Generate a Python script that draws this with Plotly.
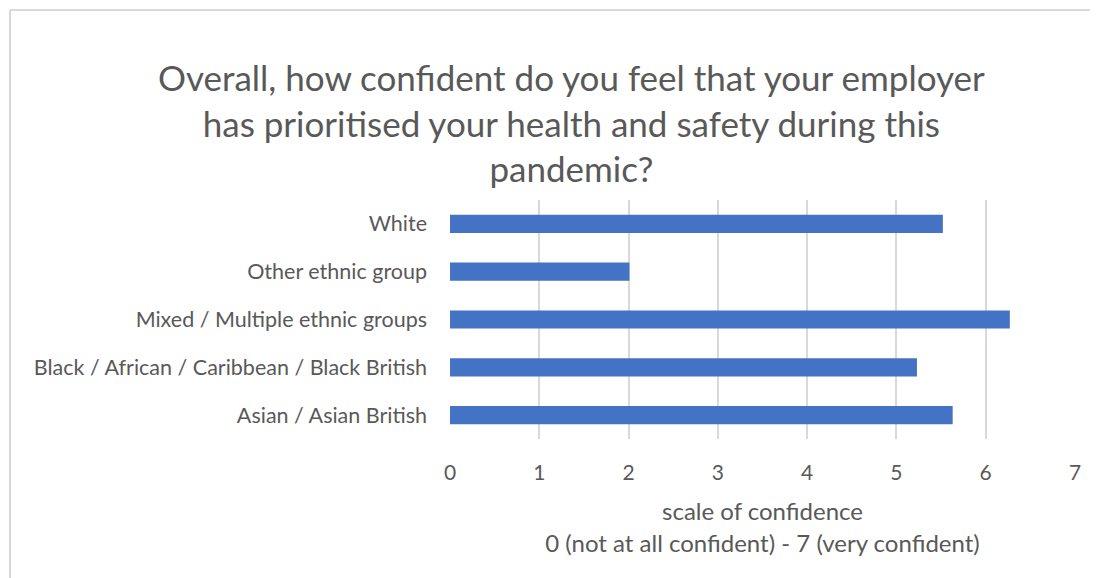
import plotly.graph_objects as go

categories = ["Asian / Asian British", "Black / African / Caribbean / Black British",
              "Mixed / Multiple ethnic groups", "Other ethnic group", "White"]
values = [5.63, 5.23, 6.27, 2.01, 5.52]
x_ticks = [0, 1, 2, 3, 4, 5, 6, 7]

title_text = ("Overall, how confident do you feel that your employer<br>"
              "has prioritised your health and safety during this<br>pandemic?")
axis_title = "scale of confidence<br>0 (not at all confident) - 7 (very confident)"

FONT = "Lato"
GRAY = "#595959"

W, H = 1100, 578
ML, MR, MT, MB = 450, 25, 200, 139
pw, ph = W - ML - MR, H - MT - MB

def px(x):
    return (x - ML) / pw

def py(y):
    return 1 + (MT - y) / ph

fig = go.Figure(go.Bar(
    x=values, y=categories, orientation="h",
    marker=dict(color="#4472C4", line=dict(width=0)),
    width=0.38,
))

fig.update_layout(
    width=W, height=H,
    margin=dict(l=ML, r=MR, t=MT, b=MB, pad=0),
    paper_bgcolor="white", plot_bgcolor="white",
    showlegend=False,
    font=dict(family=FONT, color=GRAY, size=21),
    xaxis=dict(range=[0, 7], tickvals=x_ticks, showgrid=True, gridcolor="#d9d9d9",
               gridwidth=1.5, zeroline=False, showline=False, ticks="",
               tickfont=dict(size=21, color=GRAY), ticklabelstandoff=19,
               title=dict(text=axis_title, font=dict(size=24, color=GRAY), standoff=20)),
    yaxis=dict(showgrid=False, zeroline=False, showline=False, ticks="",
               tickfont=dict(size=21.5, color=GRAY), ticklabelstandoff=22),
    shapes=[
        dict(type="line", xref="paper", yref="paper",
             x0=px(10), x1=px(10), y0=py(580), y1=py(10),
             line=dict(color="#d9d9d9", width=2), layer="below"),
        dict(type="line", xref="paper", yref="paper",
             x0=px(10), x1=px(1090), y0=py(10), y1=py(10),
             line=dict(color="#d9d9d9", width=2), layer="below"),
    ],
    annotations=[dict(text=title_text, xref="paper", yref="paper",
                      x=px(571), y=py(54), xanchor="center", yanchor="top",
                      showarrow=False, align="center",
                      font=dict(family=FONT, size=35, color=GRAY))],
)

fig.write_html("out.html", config={"displayModeBar": False})
